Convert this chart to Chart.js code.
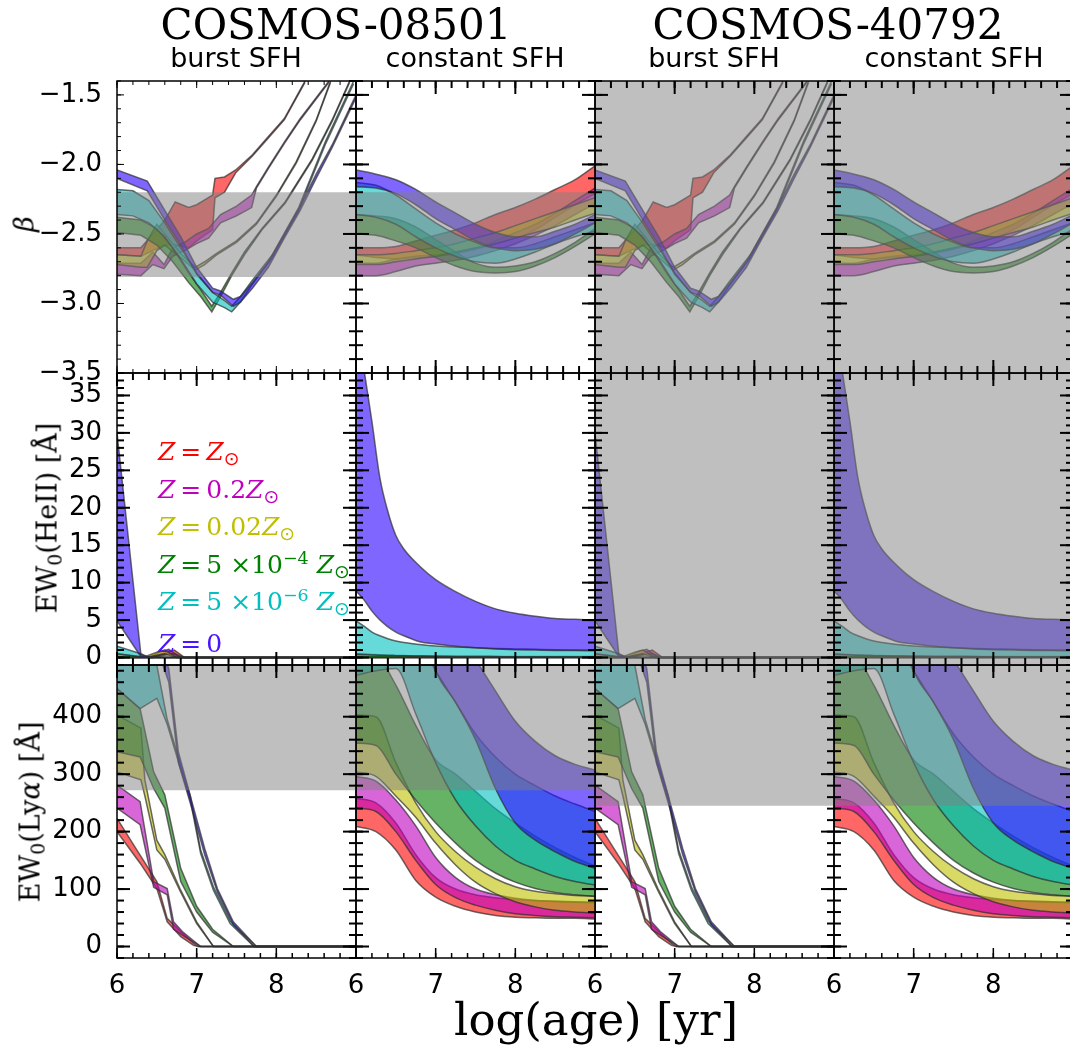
<!DOCTYPE html>
<html>
<head>
<meta charset="utf-8">
<title>beta, EW(HeII), EW(Lya) vs age</title>
<script src="https://cdn.jsdelivr.net/npm/chart.js"></script>
<style>
  html, body { margin:0; padding:0; background:#fff; }
  #fig { position:relative; width:1070px; height:1048px; overflow:hidden; background:#fff; }
  #fig canvas { position:absolute; left:0; top:0; }
  .t { position:absolute; white-space:nowrap; line-height:1; color:#000; }
  .serif { font-family:'DejaVu Serif', serif; }
  .sans { font-family:'DejaVu Sans', sans-serif; }
  .ctr { transform: translateX(-50%); }
  .rot { transform: translate(-50%,-50%) rotate(-90deg); }
  .lg { font-family:'DejaVu Serif', serif; font-size:25px; }
  .lg i { font-style:italic; }
  .sb { position:relative; top:0.28em; font-size:0.75em; font-family:'DejaVu Sans', sans-serif; }
  .sp { position:relative; top:-0.5em; font-size:0.7em; }
  .sb0 { position:relative; top:0.25em; font-size:0.7em; }
</style>
</head>
<body>
<div id="fig">
  <div class="t serif ctr" style="left:336px; top:4px; font-size:42px;">COSMOS-08501</div>
  <div class="t serif ctr" style="left:828px; top:4px; font-size:42px;">COSMOS-40792</div>
  <div class="t sans ctr" style="left:236px; top:44px; font-size:27px;">burst SFH</div>
  <div class="t sans ctr" style="left:475px; top:44px; font-size:27px;">constant SFH</div>
  <div class="t sans ctr" style="left:714px; top:44px; font-size:27px;">burst SFH</div>
  <div class="t sans ctr" style="left:954px; top:44px; font-size:27px;">constant SFH</div>
  <div class="t serif ctr" style="left:596px; top:997px; font-size:45px;">log(age) [yr]</div>
  <div class="t serif rot" style="left:24px; top:224px; font-size:27px; font-style:italic;">β</div>
  <div class="t serif rot" style="left:47px; top:518px; font-size:27px;">EW<span class="sb0">0</span>(HeII) [Å]</div>
  <div class="t serif rot" style="left:30px; top:812px; font-size:27px;">EW<span class="sb0">0</span>(Ly<i>α</i>) [Å]</div>

  <div class="t lg" style="left:158px; top:439px; color:#ff0000;"><i>Z</i>&#8201;=&#8201;<i>Z</i><span class="sb">⊙</span></div>
  <div class="t lg" style="left:158px; top:477px; color:#bf00bf;"><i>Z</i>&#8201;=&#8201;0.2<i>Z</i><span class="sb">⊙</span></div>
  <div class="t lg" style="left:158px; top:514px; color:#bfbf00;"><i>Z</i>&#8201;=&#8201;0.02<i>Z</i><span class="sb">⊙</span></div>
  <div class="t lg" style="left:158px; top:552px; color:#008000;"><i>Z</i>&#8201;=&#8201;5 ×10<span class="sp">−4</span> <i>Z</i><span class="sb">⊙</span></div>
  <div class="t lg" style="left:158px; top:589px; color:#00bfbf;"><i>Z</i>&#8201;=&#8201;5 ×10<span class="sp">−6</span> <i>Z</i><span class="sb">⊙</span></div>
  <div class="t lg" style="left:158px; top:631px; color:#4a14ff;"><i>Z</i>&#8201;=&#8201;0</div>
</div>
<script>
// ---------------- tick labels ----------------
const xTickLabels = [6, 7, 8];
const betaTicks = [-3.5, -3.0, -2.5, -2.0, -1.5];
const heiiTicks = [0, 5, 10, 15, 20, 25, 30, 35];
const lyaTicks = [0, 100, 200, 300, 400];

// ---------------- burst SFH : UV slope beta ----------------
const bBetaRedX = [6.0, 6.3, 6.45, 6.6, 6.73, 6.9, 7.0, 7.2, 7.23, 7.35, 7.49, 7.7, 7.9, 8.1, 8.36];
const bBetaRedLo = [-2.65, -2.66, -2.62, -2.58, -2.58, -2.60, -2.55, -2.47, -2.24, -2.20, -2.06, -1.94, -1.81, -1.68, -1.41];
const bBetaRedHi = [-2.60, -2.60, -2.50, -2.40, -2.27, -2.31, -2.29, -2.22, -2.10, -2.09, -2.04, -1.93, -1.80, -1.67, -1.40];
const bBetaMagX = [6.0, 6.3, 6.45, 6.59, 6.7, 6.85, 7.0, 7.15, 7.3, 7.5, 7.69, 7.75, 7.9, 8.1, 8.3, 8.5, 8.66];
const bBetaMagLo = [-2.79, -2.80, -2.72, -2.75, -2.66, -2.62, -2.57, -2.53, -2.42, -2.37, -2.31, -2.17, -2.03, -1.85, -1.68, -1.53, -1.41];
const bBetaMagHi = [-2.71, -2.71, -2.63, -2.72, -2.60, -2.56, -2.50, -2.46, -2.36, -2.30, -2.22, -2.16, -2.02, -1.84, -1.67, -1.52, -1.40];
const bBetaYelX = [6.0, 6.3, 6.38, 6.5, 6.6, 6.8, 6.98, 7.1, 7.25, 7.5, 7.75, 8.0, 8.25, 8.5, 8.68];
const bBetaYelLo = [-2.72, -2.74, -2.74, -2.62, -2.58, -2.67, -2.76, -2.72, -2.65, -2.56, -2.43, -2.23, -1.99, -1.69, -1.41];
const bBetaYelHi = [-2.65, -2.66, -2.55, -2.43, -2.50, -2.64, -2.74, -2.70, -2.64, -2.55, -2.42, -2.22, -1.98, -1.68, -1.40];
const bBetaGrnX = [6.0, 6.3, 6.5, 6.7, 6.9, 7.05, 7.19, 7.3, 7.44, 7.6, 7.82, 8.11, 8.45, 8.7, 8.92];
const bBetaGrnLo = [-2.49, -2.51, -2.58, -2.70, -2.85, -2.95, -3.06, -2.95, -2.80, -2.65, -2.47, -2.28, -1.97, -1.69, -1.41];
const bBetaGrnHi = [-2.38, -2.40, -2.46, -2.60, -2.78, -2.90, -3.02, -2.92, -2.78, -2.63, -2.46, -2.27, -1.96, -1.68, -1.40];
const bBetaCynX = [6.0, 6.2, 6.4, 6.6, 6.8, 7.0, 7.2, 7.35, 7.44, 7.55, 7.69, 7.95, 8.28, 8.62, 8.97];
const bBetaCynLo = [-2.36, -2.37, -2.42, -2.52, -2.68, -2.86, -2.99, -3.03, -3.06, -2.99, -2.87, -2.67, -2.33, -1.85, -1.42];
const bBetaCynHi = [-2.18, -2.19, -2.26, -2.42, -2.60, -2.78, -2.92, -2.98, -3.02, -2.95, -2.84, -2.65, -2.31, -1.83, -1.40];
const bBetaBluX = [6.0, 6.38, 6.6, 6.8, 7.0, 7.2, 7.3, 7.46, 7.55, 7.7, 7.9, 8.1, 8.3, 8.5, 8.7, 8.9, 9.0];
const bBetaBluLo = [-2.10, -2.19, -2.40, -2.58, -2.79, -2.92, -2.94, -3.02, -2.99, -2.89, -2.74, -2.53, -2.33, -2.10, -1.88, -1.64, -1.52];
const bBetaBluHi = [-2.04, -2.12, -2.33, -2.52, -2.74, -2.89, -2.91, -2.97, -2.95, -2.85, -2.70, -2.50, -2.30, -2.07, -1.86, -1.62, -1.50];

// ---------------- burst SFH : EW0(HeII) ----------------
const bHeRedX = [6.0, 6.45, 6.6, 6.72, 6.85, 9.0];
const bHeRedLo = [0, 0, 0.3, 0.5, 0, 0];
const bHeRedHi = [0, 0, 0.6, 1.0, 0, 0];
const bHeMagX = [6.0, 6.4, 6.55, 6.65, 6.8, 9.0];
const bHeMagLo = [0, 0, 0.4, 0.6, 0, 0];
const bHeMagHi = [0, 0, 0.8, 1.1, 0, 0];
const bHeYelX = [6.0, 6.35, 6.5, 6.6, 6.75, 9.0];
const bHeYelLo = [0, 0, 0.3, 0.5, 0, 0];
const bHeYelHi = [0.1, 0.1, 0.7, 1.0, 0, 0];
const bHeGrnX = [6.0, 6.3, 6.4, 9.0];
const bHeGrnLo = [0, 0, 0, 0];
const bHeGrnHi = [0.5, 0.1, 0, 0];
const bHeCynX = [6.0, 6.3, 6.4, 9.0];
const bHeCynLo = [0.5, 0.1, 0, 0];
const bHeCynHi = [1.5, 0.5, 0, 0];
const bHeBluX = [6.0, 6.3, 6.4, 9.0];
const bHeBluLo = [4.9, 0.1, 0, 0];
const bHeBluHi = [30, 0.4, 0, 0];

// ---------------- burst SFH : EW0(Lya) ----------------
const bLyRedX = [6.0, 6.29, 6.5, 6.63, 6.8, 6.96, 7.02, 9.0];
const bLyRedLo = [200, 145, 101, 43, 17, 2, 0, 0];
const bLyRedHi = [223, 159, 113, 49, 26, 6, 0, 0];
const bLyMagX = [6.0, 6.29, 6.46, 6.63, 6.71, 6.82, 7.05, 9.0];
const bLyMagLo = [241, 212, 103, 90, 30, 20, 0, 0];
const bLyMagHi = [281, 252, 113, 101, 43, 26, 0, 0];
const bLyYelX = [6.0, 6.3, 6.35, 6.5, 6.6, 6.79, 7.0, 7.21, 9.0];
const bLyYelLo = [304, 290, 262, 168, 152, 97, 40, 0, 0];
const bLyYelHi = [403, 380, 290, 185, 160, 101, 43, 0, 0];
const bLyGrnX = [6.0, 6.29, 6.46, 6.6, 6.8, 7.0, 7.2, 7.46, 9.0];
const bLyGrnLo = [339, 330, 275, 241, 113, 60, 25, 0, 0];
const bLyGrnHi = [449, 414, 304, 264, 136, 70, 30, 0, 0];
const bLyCynX = [6.0, 6.29, 6.5, 6.63, 6.79, 6.92, 7.05, 7.21, 7.42, 7.72, 9.0];
const bLyCynLo = [449, 414, 432, 387, 313, 255, 162, 98, 40, 0, 0];
const bLyCynHi = [500, 500, 490, 395, 320, 262, 168, 104, 45, 0, 0];
const bLyBluX = [6.0, 6.55, 6.65, 6.77, 6.94, 7.1, 7.26, 7.46, 7.75, 9.0];
const bLyBluLo = [600, 500, 460, 320, 240, 160, 95, 38, 0, 0];
const bLyBluHi = [600, 520, 484, 339, 252, 171, 101, 43, 0, 0];

// ---------------- constant SFH : beta ----------------
const cBetaX = [6.0, 6.25, 6.5, 6.75, 7.0, 7.25, 7.5, 7.75, 8.0, 8.25, 8.5, 8.75, 9.0];
const cBetaRedLo = [-2.65, -2.67, -2.68, -2.67, -2.66, -2.64, -2.61, -2.57, -2.53, -2.47, -2.38, -2.29, -2.21];
const cBetaRedHi = [-2.60, -2.60, -2.59, -2.55, -2.51, -2.47, -2.42, -2.36, -2.31, -2.25, -2.18, -2.11, -2.01];
const cBetaMagLo = [-2.80, -2.80, -2.77, -2.73, -2.71, -2.69, -2.66, -2.62, -2.57, -2.51, -2.44, -2.36, -2.28];
const cBetaMagHi = [-2.71, -2.71, -2.68, -2.66, -2.65, -2.63, -2.60, -2.55, -2.49, -2.43, -2.35, -2.26, -2.17];
const cBetaYelLo = [-2.72, -2.72, -2.70, -2.68, -2.66, -2.63, -2.60, -2.57, -2.53, -2.49, -2.45, -2.40, -2.35];
const cBetaYelHi = [-2.65, -2.65, -2.64, -2.62, -2.60, -2.57, -2.53, -2.49, -2.44, -2.39, -2.34, -2.29, -2.24];
const cBetaGrnLo = [-2.50, -2.51, -2.55, -2.60, -2.67, -2.73, -2.77, -2.78, -2.77, -2.73, -2.67, -2.59, -2.50];
const cBetaGrnHi = [-2.36, -2.37, -2.39, -2.45, -2.54, -2.63, -2.71, -2.74, -2.73, -2.70, -2.64, -2.56, -2.46];
const cBetaCynLo = [-2.36, -2.38, -2.43, -2.52, -2.60, -2.66, -2.70, -2.71, -2.68, -2.63, -2.57, -2.52, -2.48];
const cBetaCynHi = [-2.13, -2.15, -2.22, -2.32, -2.42, -2.50, -2.56, -2.60, -2.60, -2.57, -2.52, -2.47, -2.42];
const cBetaBluLo = [-2.16, -2.17, -2.21, -2.29, -2.39, -2.47, -2.55, -2.60, -2.62, -2.61, -2.57, -2.50, -2.42];
const cBetaBluHi = [-2.04, -2.07, -2.11, -2.18, -2.27, -2.35, -2.43, -2.49, -2.52, -2.52, -2.48, -2.43, -2.36];

// ---------------- constant SFH : EW0(HeII) ----------------
const cHeX = [6.0, 6.1, 6.2, 6.3, 6.4, 6.5, 6.6, 6.8, 7.0, 7.25, 7.5, 7.75, 8.0, 8.25, 8.5, 8.75, 9.0];
const cHeRedLo = [0, 0, 0, 0, 0, 0, 0, 0, 0, 0, 0, 0, 0, 0, 0, 0, 0];
const cHeRedHi = [0.05, 0.05, 0.05, 0.05, 0.05, 0.05, 0.05, 0.05, 0.05, 0.05, 0.05, 0.05, 0.05, 0.05, 0.05, 0.05, 0.05];
const cHeMagLo = [0, 0, 0, 0, 0, 0, 0, 0, 0, 0, 0, 0, 0, 0, 0, 0, 0];
const cHeMagHi = [0.08, 0.08, 0.08, 0.08, 0.08, 0.08, 0.08, 0.07, 0.07, 0.07, 0.06, 0.06, 0.06, 0.06, 0.06, 0.06, 0.06];
const cHeYelLo = [0, 0, 0, 0, 0, 0, 0, 0, 0, 0, 0, 0, 0, 0, 0, 0, 0];
const cHeYelHi = [0.12, 0.12, 0.11, 0.11, 0.1, 0.1, 0.1, 0.1, 0.09, 0.09, 0.09, 0.08, 0.08, 0.08, 0.08, 0.08, 0.08];
const cHeGrnLo = [0, 0, 0, 0, 0, 0, 0, 0, 0, 0, 0, 0, 0, 0, 0, 0, 0];
const cHeGrnHi = [0.5, 0.45, 0.4, 0.35, 0.3, 0.28, 0.26, 0.22, 0.2, 0.18, 0.16, 0.15, 0.14, 0.13, 0.12, 0.12, 0.12];
const cHeCynLo = [0.45, 0.4, 0.35, 0.3, 0.28, 0.25, 0.22, 0.2, 0.18, 0.15, 0.13, 0.12, 0.1, 0.1, 0.1, 0.1, 0.1];
const cHeCynHi = [4.9, 4.2, 3.4, 2.9, 2.5, 2.2, 2.0, 1.75, 1.55, 1.4, 1.3, 1.2, 1.15, 1.1, 1.05, 1.02, 1.0];
const cHeBluLo = [8.9, 7.7, 6.2, 5.0, 4.1, 3.4, 2.9, 2.1, 1.8, 1.5, 1.3, 1.15, 1.05, 1.0, 0.95, 0.92, 0.9];
const cHeBluHi = [46, 38.5, 31.5, 24.0, 19.5, 16.3, 14.5, 12.2, 10.4, 8.8, 7.5, 6.5, 5.9, 5.5, 5.2, 5.1, 5.0];

// ---------------- constant SFH : EW0(Lya) ----------------
const cLyX = [6.0, 6.25, 6.5, 6.75, 7.0, 7.25, 7.5, 7.75, 8.0, 8.25, 8.5, 8.75, 9.0];
const cLyRedLo = [209, 200, 168, 115, 86, 70, 60, 54, 51, 50, 49, 49, 48];
const cLyRedHi = [258, 250, 215, 160, 120, 100, 90, 85, 82, 80, 79, 78, 77];
const cLyMagLo = [241, 235, 200, 150, 108, 85, 72, 63, 57, 54, 52, 51, 50];
const cLyMagHi = [296, 288, 255, 210, 155, 120, 100, 90, 84, 80, 78, 77, 76];
const cLyYelLo = [304, 296, 262, 225, 180, 142, 112, 92, 78, 69, 63, 60, 58];
const cLyYelHi = [403, 400, 320, 250, 200, 165, 138, 118, 104, 96, 92, 89, 88];
const cLyGrnLo = [354, 350, 300, 255, 215, 180, 150, 128, 112, 101, 94, 90, 87];
const cLyGrnHi = [520, 510, 455, 385, 325, 300, 270, 240, 215, 192, 172, 155, 140];
const cLyCynLo = [472, 480, 484, 405, 320, 255, 210, 175, 150, 135, 122, 113, 107];
const cLyCynHi = [600, 600, 590, 540, 480, 425, 370, 330, 300, 280, 262, 248, 235];
const cLyBluLo = [800, 750, 700, 600, 480, 425, 360, 275, 215, 185, 165, 148, 136];
const cLyBluHi = [900, 850, 800, 700, 620, 560, 500, 445, 392, 357, 332, 317, 307];

// ---------------- observed ranges (grey) per column ----------------
const greyBeta = [[-2.81, -2.20], [-2.81, -2.20], [-99, 99], [-99, 99]];
const greyHeII = [null, null, [-99, 999], [-99, 999]];
const greyLya = [[272, 10000], [272, 10000], [245, 10000], [245, 10000]];

// ---------------- assembly ----------------
const BURST = [
  [[bBetaRedX, bBetaRedLo, bBetaRedHi], [bBetaMagX, bBetaMagLo, bBetaMagHi], [bBetaYelX, bBetaYelLo, bBetaYelHi],
   [bBetaGrnX, bBetaGrnLo, bBetaGrnHi], [bBetaCynX, bBetaCynLo, bBetaCynHi], [bBetaBluX, bBetaBluLo, bBetaBluHi]],
  [[bHeRedX, bHeRedLo, bHeRedHi], [bHeMagX, bHeMagLo, bHeMagHi], [bHeYelX, bHeYelLo, bHeYelHi],
   [bHeGrnX, bHeGrnLo, bHeGrnHi], [bHeCynX, bHeCynLo, bHeCynHi], [bHeBluX, bHeBluLo, bHeBluHi]],
  [[bLyRedX, bLyRedLo, bLyRedHi], [bLyMagX, bLyMagLo, bLyMagHi], [bLyYelX, bLyYelLo, bLyYelHi],
   [bLyGrnX, bLyGrnLo, bLyGrnHi], [bLyCynX, bLyCynLo, bLyCynHi], [bLyBluX, bLyBluLo, bLyBluHi]]
];
const CONST = [
  [[cBetaX, cBetaRedLo, cBetaRedHi], [cBetaX, cBetaMagLo, cBetaMagHi], [cBetaX, cBetaYelLo, cBetaYelHi],
   [cBetaX, cBetaGrnLo, cBetaGrnHi], [cBetaX, cBetaCynLo, cBetaCynHi], [cBetaX, cBetaBluLo, cBetaBluHi]],
  [[cHeX, cHeRedLo, cHeRedHi], [cHeX, cHeMagLo, cHeMagHi], [cHeX, cHeYelLo, cHeYelHi],
   [cHeX, cHeGrnLo, cHeGrnHi], [cHeX, cHeCynLo, cHeCynHi], [cHeX, cHeBluLo, cHeBluHi]],
  [[cLyX, cLyRedLo, cLyRedHi], [cLyX, cLyMagLo, cLyMagHi], [cLyX, cLyYelLo, cLyYelHi],
   [cLyX, cLyGrnLo, cLyGrnHi], [cLyX, cLyCynLo, cLyCynHi], [cLyX, cLyBluLo, cLyBluHi]]
];
const GREYS = [greyBeta, greyHeII, greyLya];

const fmtMinus = v => (v < 0 ? '\u2212' : '') + Math.abs(v).toFixed(1);
const ROWS = [
  { min: -3.5, max: -1.4, ticks: betaTicks, minor: 0.1, fmt: fmtMinus },
  { min: -1, max: 38, ticks: heiiTicks, minor: 1, fmt: v => String(v) },
  { min: -20, max: 490, ticks: lyaTicks, minor: 20, fmt: v => String(v) }
];

const PANEL_LEFT = [117, 356, 595, 834];
const PANEL_RIGHT = [356, 595, 834, 1073];
const PANEL_TOP = [81, 373, 665];
const PANEL_BOTTOM = [373, 665, 958];
const CW = 1090, CH = 1048;
const YAX_W = 110, XAX_H = 50;

const Z_RGB = ['255,0,0', '191,0,191', '191,191,0', '0,128,0', '0,191,191', '40,0,255'];
const EDGE = 'rgba(45,45,45,0.7)';
const GREY = 'rgba(128,128,128,0.5)';

const THIN = { lw: 1, maj: 7, min: 4 };
const MED = { lw: 1.5, maj: 10, min: 5 };
const THICK = { lw: 2, maj: 13, min: 7 };

function minorValues(lo, hi, step) {
  const out = [];
  const a = Math.ceil(lo / step - 1e-6), b = Math.floor(hi / step + 1e-6);
  for (let i = a; i <= b; i++) out.push(+(i * step).toFixed(6));
  return out;
}

const frameTicks = {
  id: 'frameTicks',
  afterDraw(chart) {
    const o = chart.options.plugins.frameTicks;
    const { ctx, chartArea: a } = chart;
    const xs = chart.scales.x, ys = chart.scales.y;
    const xMaj = [6, 7, 8, 9], xMin = minorValues(6, 9, 0.2);
    const R = ROWS[o.row];
    const yMaj = minorValues(R.min, R.max, R.ticks[1] - R.ticks[0]);
    const yMin = minorValues(R.min, R.max, R.minor);
    ctx.save();
    ctx.strokeStyle = '#000';
    ctx.lineCap = 'butt';
    const seg = (x1, y1, x2, y2) => { ctx.beginPath(); ctx.moveTo(x1, y1); ctx.lineTo(x2, y2); ctx.stroke(); };
    const side = (name, vals, len) => {
      const st = o.sides[name];
      ctx.lineWidth = st.lw;
      vals.forEach(v => {
        if (name === 'top' || name === 'bottom') {
          const p = xs.getPixelForValue(v);
          if (name === 'top') seg(p, a.top, p, a.top + st[len]);
          else seg(p, a.bottom, p, a.bottom - st[len]);
        } else {
          const p = ys.getPixelForValue(v);
          if (name === 'left') seg(a.left, p, a.left + st[len], p);
          else seg(a.right, p, a.right - st[len], p);
        }
      });
    };
    ['top', 'bottom'].forEach(s => { side(s, xMin, 'min'); side(s, xMaj, 'maj'); });
    ['left', 'right'].forEach(s => { side(s, yMin, 'min'); side(s, yMaj, 'maj'); });
    ctx.lineWidth = 1.5;
    ctx.strokeRect(a.left, a.top, a.right - a.left, a.bottom - a.top);
    ctx.restore();
  }
};

function band(x, lo, hi, k, smooth) {
  const base = {
    pointRadius: 0, borderColor: EDGE, borderWidth: 1.5, order: 6 - k,
    tension: 0, cubicInterpolationMode: smooth ? 'monotone' : 'default'
  };
  return [
    Object.assign({}, base, { data: x.map((v, i) => ({ x: v, y: lo[i] })), fill: false }),
    Object.assign({}, base, { data: x.map((v, i) => ({ x: v, y: hi[i] })), fill: '-1', backgroundColor: 'rgba(' + Z_RGB[k] + ',0.6)' })
  ];
}

function sideStyles(r, c) {
  const s = { top: THICK, bottom: THICK, left: THICK, right: THICK };
  if (r === 0 && c === 0) { s.top = THIN; s.left = THIN; s.bottom = THIN; }
  if (r === 2) s.bottom = MED;
  return s;
}

const fig = document.getElementById('fig');
function makePanel(r, c) {
  const cv = document.createElement('canvas');
  cv.width = CW; cv.height = CH;
  cv.style.width = CW + 'px'; cv.style.height = CH + 'px';
  fig.insertBefore(cv, fig.firstChild);
  const burst = (c % 2 === 0);
  const sets = (burst ? BURST : CONST)[r];
  const R = ROWS[r];
  const datasets = [];
  const g = GREYS[r][c];
  if (g) datasets.push({
    data: [{ x: 5, y: g[1] }, { x: 10, y: g[1] }], fill: { value: g[0] },
    backgroundColor: GREY, borderWidth: 0, pointRadius: 0, order: 0
  });
  sets.forEach((s, k) => datasets.push(...band(s[0], s[1], s[2], k, !burst)));
  const yw = (c === 0) ? YAX_W : 0;
  const xh = (r === 2) ? XAX_H : 0;

  new Chart(cv, {
    type: 'line',
    data: { datasets },
    options: {
      responsive: false, animation: false, devicePixelRatio: 1, events: [],
      layout: { autoPadding: false, padding: { left: PANEL_LEFT[c] - yw, right: CW - PANEL_RIGHT[c], top: PANEL_TOP[r], bottom: CH - PANEL_BOTTOM[r] - xh } },
      plugins: { legend: { display: false }, tooltip: { enabled: false }, frameTicks: { row: r, sides: sideStyles(r, c) } },
      scales: {
        x: {
          type: 'linear', min: 6, max: 9, display: true,
          afterFit: s => { s.height = xh; },
          afterBuildTicks: s => { s.ticks = xTickLabels.map(v => ({ value: v })); },
          grid: { display: false }, border: { display: false },
          ticks: { display: r === 2, autoSkip: false, maxRotation: 0, padding: 5, color: '#000',
                   font: { family: "'DejaVu Sans', sans-serif", size: 26 }, callback: v => String(v) }
        },
        y: {
          type: 'linear', min: R.min, max: R.max, display: true,
          afterFit: s => { s.width = yw; },
          afterBuildTicks: s => { s.ticks = R.ticks.map(v => ({ value: v })); },
          grid: { display: false }, border: { display: false },
          ticks: { display: c === 0, autoSkip: false, padding: 7, color: '#000',
                   font: { family: "'DejaVu Sans', sans-serif", size: 26 }, callback: v => R.fmt(v) }
        }
      }
    },
    plugins: [frameTicks]
  });
}
for (let r = 0; r < 3; r++) for (let c = 0; c < 4; c++) makePanel(r, c);
</script>
</body>
</html>
